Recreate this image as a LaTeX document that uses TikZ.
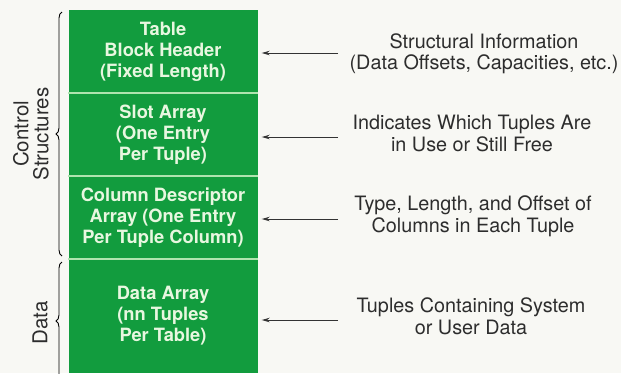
\documentclass[tikz,border=0pt]{standalone}
\usepackage{fontspec}
\setmainfont{TeX Gyre Heros}
\usepackage{tikz}
\usetikzlibrary{arrows.meta}
\usetikzlibrary{decorations.pathreplacing}
\definecolor{blockgreen}{RGB}{18,156,62}
\definecolor{blocktext}{RGB}{232,247,224}
\definecolor{linegreen}{RGB}{175,228,175}
\definecolor{notetext}{RGB}{45,45,45}
\definecolor{paper}{RGB}{248,248,244}

\begin{document}
\begin{tikzpicture}[x=1pt,y=-1pt,
		block/.style={fill=blockgreen, text=blocktext, minimum width=189pt, inner sep=0pt, align=center, font=\fontsize{18.3}{21}\selectfont\bfseries},
		note/.style={text=notetext, align=center, font=\fontsize{19.8}{21.5}\selectfont},
		side/.style={rotate=90, align=center, text=notetext, font=\fontsize{20.5}{20}\selectfont},
		pointer/.style={draw=black!80, line width=1pt, -{Stealth[length=8pt,width=4.5pt]}, shorten >=4pt},
		divider/.style={draw=linegreen, line width=1.5pt},
		bracket/.style={decorate, decoration={brace, amplitude=6pt}, line width=0.9pt}]
		\useasboundingbox[fill=paper] (0,0) rectangle (621,373);
		% the table block
		\node[block, minimum height=83pt] (header) at (163,51.5) {Table\\Block Header\\(Fixed Length)};
		\node[block, minimum height=83pt] (slots) at (163,134.5) {Slot Array\\(One Entry\\Per Tuple)};
		\node[block, minimum height=83pt] (columns) at (163,217.5) {Column Descriptor\\Array (One Entry\\Per Tuple Column)};
		\node[block, minimum height=114pt] (data) at (163,316) {Data Array\\(nn Tuples\\Per Table)};
		\foreach \blk in {header,slots,columns}
		\draw[divider] (\blk.south west) -- (\blk.south east);
		% notes on the right
		\node[note] (n-header) at (484,54) {Structural Information\\(Data Offsets, Capacities, etc.)};
		\node[note] (n-slots) at (472,133.5) {Indicates Which Tuples Are\\in Use or Still Free};
		\node[note] (n-columns) at (473,216.5) {Type, Length, and Offset of\\Columns in Each Tuple};
		\node[note] (n-data) at (471,316.5) {Tuples Containing System\\or User Data};
		\foreach \blk/\y in {header/53,slots/137,columns/219,data/320}{
			\coordinate (tail-\blk) at (338,\y);
			\draw[pointer] (tail-\blk) -- (tail-\blk -| \blk.east);
		}
		% braces and labels on the left
		\coordinate (ctrl-top) at (62,12);
		\coordinate (ctrl-bot) at (62,256);
		\coordinate (data-top) at (62,262);
		\coordinate (data-bot) at (62,380);
		\draw[bracket] (ctrl-bot) -- (ctrl-top);
		\draw[bracket] (data-bot) -- (data-top);
		\node[side] (ctrl) at (31,134) {Control\\Structures};
		\node[side] (datalabel) at (40,323) {Data};
\end{tikzpicture}
\end{document}
